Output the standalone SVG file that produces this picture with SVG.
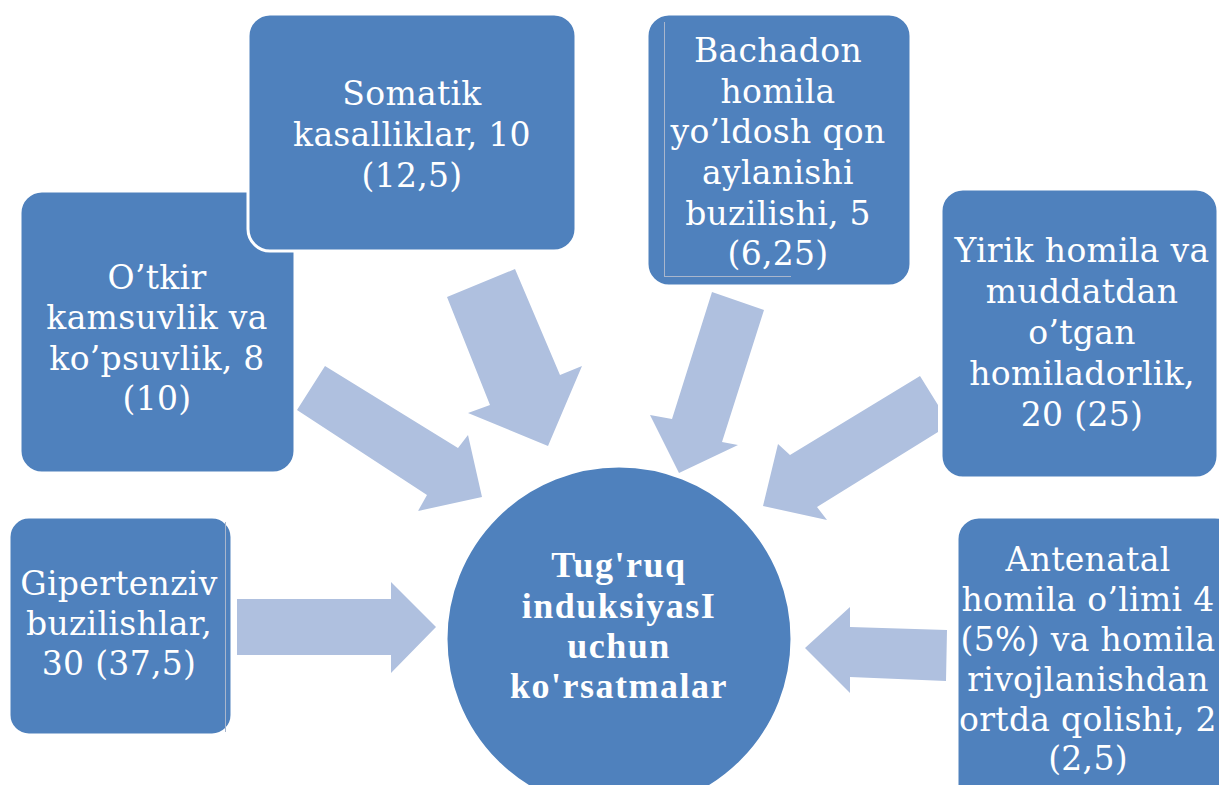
<svg xmlns="http://www.w3.org/2000/svg" width="1219" height="785" viewBox="0 0 1219 785">
<style>
.box{fill:#4F81BD;stroke:#ffffff;stroke-width:3}
.arr{fill:#AFC0DF}
text{fill:#ffffff;text-anchor:middle}
.t{font-family:'DejaVu Serif',serif;font-size:33px;letter-spacing:0.3px}
.c{font-family:'Liberation Serif','DejaVu Serif',serif;font-size:36px;font-weight:bold;letter-spacing:1.5px}
.thin{stroke:#A9B6CC;stroke-width:1;fill:none}
</style>
<rect width="1219" height="785" fill="#ffffff"/>
<g id="connectors">
<polygon class="arr" points="237,599 391,599 391,582 436,627 391,673 391,655 237,655"/>
<polygon class="arr" points="805,648 850,607 850,627 947,630 946,681 850,677 850,693"/>
<polygon class="arr" points="325,366 458,448 468,435 482,497 418,511 427,495 297,410"/>
<polygon class="arr" points="447,297 515,269 560,375 582,366 548,446 468,413 490,405"/>
<polygon class="arr" points="712,292 764,310 722,442 738,445 679,473 650,415 672,419"/>
<polygon class="arr" points="920,376 938,405 938,432 817,507 827,520 763,506 778,444 790,455"/>
</g>
<g id="node-otkir">
<rect class="box" x="20" y="191" width="275" height="282" rx="22"/>
<text class="t" x="157" y="289">O’tkir</text>
<text class="t" x="157" y="329">kamsuvlik va</text>
<text class="t" x="157" y="370">ko’psuvlik, 8</text>
<text class="t" x="157" y="410">(10)</text>
</g>
<g id="node-somatik">
<rect class="box" x="248" y="14" width="328" height="237" rx="22"/>
<text class="t" x="412" y="105">Somatik</text>
<text class="t" x="412" y="146">kasalliklar, 10</text>
<text class="t" x="412" y="187">(12,5)</text>
</g>
<g id="node-bachadon">
<rect class="box" x="647" y="14" width="264" height="272" rx="22"/>
<line class="thin" x1="664.5" y1="22" x2="664.5" y2="276"/>
<line class="thin" x1="664" y1="276.5" x2="791" y2="276.5"/>
<text class="t" x="778" y="62">Bachadon</text>
<text class="t" x="778" y="103">homila</text>
<text class="t" x="778" y="143">yo’ldosh qon</text>
<text class="t" x="778" y="184">aylanishi</text>
<text class="t" x="778" y="225">buzilishi, 5</text>
<text class="t" x="778" y="265">(6,25)</text>
</g>
<g id="node-yirik">
<rect class="box" x="941" y="189" width="277" height="289" rx="22"/>
<text class="t" x="1082" y="262">Yirik homila va</text>
<text class="t" x="1082" y="303">muddatdan</text>
<text class="t" x="1082" y="344">o’tgan</text>
<text class="t" x="1082" y="385">homiladorlik,</text>
<text class="t" x="1082" y="426">20 (25)</text>
</g>
<g id="node-gipertenziv">
<rect class="box" x="9" y="517" width="223" height="218" rx="20"/>
<line class="thin" x1="225.5" y1="522" x2="225.5" y2="732"/>
<text class="t" x="119" y="595">Gipertenziv</text>
<text class="t" x="119" y="635">buzilishlar,</text>
<text class="t" x="119" y="675">30 (37,5)</text>
</g>
<g id="node-antenatal">
<rect class="box" x="957" y="517" width="280" height="290" rx="22"/>
<text class="t" x="1088" y="571">Antenatal</text>
<text class="t" x="1088" y="611">homila o’limi 4</text>
<text class="t" x="1088" y="651">(5%) va homila</text>
<text class="t" x="1088" y="691">rivojlanishdan</text>
<text class="t" x="1088" y="731">ortda qolishi, 2</text>
<text class="t" x="1088" y="770">(2,5)</text>
</g>
<g id="node-center">
<circle cx="619" cy="639" r="173" fill="#4F81BD" stroke="#ffffff" stroke-width="3"/>
<text class="c" x="619" y="577">Tug'ruq</text>
<text class="c" x="619" y="618">induksiyasI</text>
<text class="c" x="619" y="658">uchun</text>
<text class="c" x="619" y="698">ko'rsatmalar</text>
</g>
</svg>
